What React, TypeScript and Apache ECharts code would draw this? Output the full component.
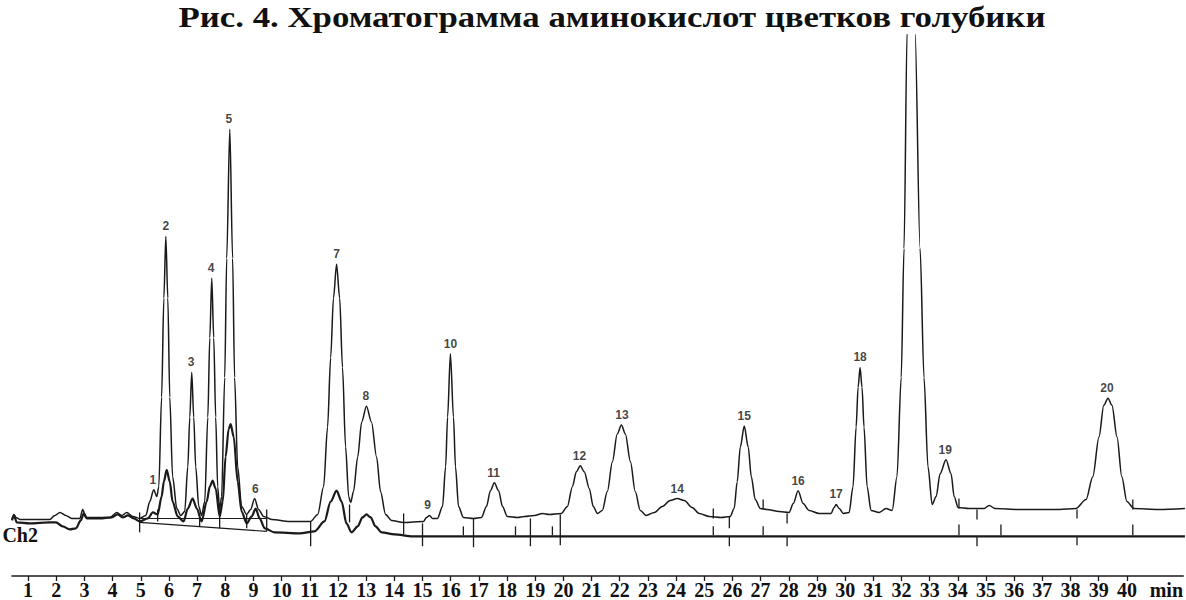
import React, { useEffect, useRef } from "react";
import * as echarts from "echarts";

const TITLE = "Рис. 4. Хроматограмма аминокислот цветков голубики";
const CHANNEL_LABEL = "Ch2";
const UNIT_LABEL = "min";

const minuteTicks = [
  1, 2, 3, 4, 5, 6, 7, 8, 9, 10, 11, 12, 13, 14, 15, 16, 17, 18, 19, 20,
  21, 22, 23, 24, 25, 26, 27, 28, 29, 30, 31, 32, 33, 34, 35, 36, 37, 38, 39, 40,
];

// main detector trace: [minutes, signal]
const traceMain: [number, number][] = [
  [0.43, 57], [0.5, 62], [0.57, 59], [0.71, 57], [1.77, 57], [1.95, 61], [2.13, 64], [2.34, 61],
  [2.55, 58], [2.84, 58], [2.94, 67], [3.05, 59], [3.9, 59], [4.15, 64], [4.33, 61], [4.5, 64],
  [4.72, 60], [4.96, 58], [5.18, 61], [5.32, 75], [5.46, 87], [5.57, 80], [5.64, 90], [5.74, 180],
  [5.82, 280], [5.89, 342], [5.96, 280], [6.03, 180], [6.13, 100], [6.28, 68], [6.42, 61], [6.56, 65],
  [6.67, 110], [6.74, 160], [6.81, 205], [6.88, 160], [6.95, 110], [7.06, 70], [7.16, 61], [7.27, 75],
  [7.38, 160], [7.45, 240], [7.52, 300], [7.59, 240], [7.66, 160], [7.73, 90], [7.8, 67], [7.87, 80],
  [7.98, 200], [8.05, 320], [8.16, 450], [8.26, 320], [8.33, 200], [8.44, 110], [8.58, 70], [8.76, 62],
  [8.9, 67], [9.04, 78], [9.18, 67], [9.36, 60], [9.65, 57], [10.28, 55], [11.03, 55], [11.28, 62],
  [11.49, 90], [11.63, 150], [11.74, 220], [11.84, 280], [11.95, 314], [12.06, 280], [12.16, 210],
  [12.27, 130], [12.38, 80], [12.45, 74], [12.55, 85], [12.7, 120], [12.84, 155], [13.01, 171],
  [13.19, 155], [13.37, 120], [13.51, 85], [13.69, 62], [13.9, 56], [14.33, 54], [15.04, 55],
  [15.14, 59], [15.25, 61], [15.35, 58], [15.53, 58], [15.71, 70], [15.82, 110], [15.89, 160],
  [15.99, 224], [16.1, 160], [16.17, 110], [16.28, 70], [16.45, 59], [16.81, 58], [17.09, 59],
  [17.27, 70], [17.41, 86], [17.55, 94], [17.7, 86], [17.84, 70], [18.01, 60], [18.37, 59],
  [18.62, 60], [18.97, 61], [19.26, 63], [19.5, 62], [19.93, 63], [20.14, 70], [20.32, 90],
  [20.46, 105], [20.6, 111], [20.74, 105], [20.92, 88], [21.06, 70], [21.21, 63], [21.38, 66],
  [21.56, 85], [21.74, 115], [21.91, 143], [22.06, 152], [22.2, 143], [22.38, 115], [22.55, 85],
  [22.73, 66], [22.94, 61], [23.23, 64], [23.51, 70], [23.79, 76], [24.04, 78], [24.29, 76],
  [24.57, 69], [24.82, 63], [25.18, 60], [25.6, 59], [25.92, 60], [26.06, 68], [26.17, 95],
  [26.28, 130], [26.42, 151], [26.56, 130], [26.67, 100], [26.81, 77], [26.99, 68], [27.23, 67],
  [27.66, 65], [28.01, 64], [28.16, 73], [28.33, 86], [28.51, 73], [28.72, 66], [29.08, 63],
  [29.5, 63], [29.61, 69], [29.68, 72], [29.79, 68], [29.93, 63], [30.14, 64], [30.28, 90],
  [30.39, 150], [30.46, 190], [30.53, 210], [30.6, 190], [30.67, 150], [30.78, 90], [30.92, 66],
  [31.21, 64], [31.45, 68], [31.67, 66], [31.84, 100], [31.99, 200], [32.09, 330], [32.2, 550],
  [32.34, 620], [32.48, 550], [32.66, 330], [32.8, 200], [32.94, 110], [33.09, 72], [33.23, 80],
  [33.37, 103], [33.58, 117], [33.76, 103], [33.87, 80], [34.01, 69], [34.4, 68], [34.93, 68],
  [35.11, 71], [35.32, 68], [36.17, 67], [37.59, 67], [38.19, 68], [38.55, 77], [38.79, 100],
  [39.01, 140], [39.18, 172], [39.33, 179], [39.47, 172], [39.65, 140], [39.82, 100], [40.0, 75],
  [40.25, 68], [41.13, 67], [42.06, 68],
];

// second channel (bold) trace
const traceCh2: [number, number][] = [
  [0.43, 56], [0.5, 61], [0.6, 54], [1.06, 53], [1.77, 54], [1.99, 54], [2.23, 50], [2.48, 47],
  [2.7, 48], [2.87, 56], [2.98, 63], [3.09, 58], [3.55, 58], [3.97, 59], [4.18, 62], [4.36, 59],
  [4.54, 61], [4.75, 58], [4.96, 55], [5.25, 58], [5.43, 64], [5.6, 62], [5.74, 80], [5.82, 95],
  [5.92, 107], [6.03, 95], [6.13, 75], [6.31, 60], [6.52, 55], [6.67, 68], [6.84, 78], [6.99, 68],
  [7.16, 55], [7.34, 75], [7.45, 90], [7.55, 96], [7.66, 88], [7.8, 60], [7.91, 75], [8.01, 120],
  [8.12, 148], [8.19, 153], [8.3, 140], [8.44, 95], [8.58, 65], [8.76, 53], [8.94, 60], [9.08, 68],
  [9.22, 58], [9.4, 48], [9.75, 44], [10.64, 43], [11.17, 45], [11.52, 55], [11.74, 75], [11.95, 86],
  [12.13, 75], [12.3, 53], [12.48, 44], [12.7, 50], [12.87, 59], [13.01, 62], [13.16, 59],
  [13.33, 50], [13.55, 44], [14.01, 42], [14.65, 40], [42.06, 40],
];

const peakNames = [
  "1", "2", "3", "4", "5", "6", "7", "8", "9", "10",
  "11", "12", "13", "14", "15", "16", "17", "18", "19", "20",
];
const peakTimes = [
  5.43, 5.89, 6.79, 7.5, 8.13, 9.07, 11.95, 12.99, 15.18, 15.99,
  17.52, 20.57, 22.08, 24.04, 26.42, 28.33, 29.68, 30.53, 33.55, 39.29,
];
const peakHeights = [
  87, 342, 205, 300, 450, 78, 314, 171, 61, 224,
  94, 111, 152, 78, 151, 86, 72, 210, 117, 179,
];

// integrator marks: [minutes, signal from, signal to]
const integrationMarks: [number, number, number][] = [
  [4.96, 64, 44], [5.6, 67, 55], [7.09, 58, 50], [7.8, 67, 48], [8.76, 62, 48], [9.47, 67, 45],
  [11.03, 55, 30], [12.41, 72, 54], [14.33, 63, 42], [15.0, 53, 30], [16.45, 50, 41],
  [16.81, 58, 29], [18.3, 50, 41], [18.83, 58, 30], [19.61, 50, 41], [19.89, 62, 31],
  [25.32, 68, 58], [25.32, 50, 41], [25.89, 60, 48], [25.89, 40, 30], [27.09, 77, 67],
  [27.09, 50, 41], [27.94, 63, 53], [27.94, 40, 30], [34.04, 78, 68], [34.04, 52, 41],
  [34.68, 67, 57], [34.68, 40, 30], [35.53, 52, 41], [38.23, 67, 58], [38.23, 40, 31],
  [40.21, 77, 67], [40.21, 52, 41],
];

// integrator baselines: [t1, v1, t2, v2]
const integrationBaselines: [number, number, number, number][] = [
  [4.96, 58, 9.47, 58],
  [4.96, 54, 9.47, 45],
];

const INK = "#1a1a1a";

export default function App() {
  const ref = useRef<HTMLDivElement>(null);

  useEffect(() => {
    document.body.style.margin = "0";
    if (!ref.current) return;
    const chart = echarts.init(ref.current, undefined, { renderer: "svg" });

    const labelData = peakNames.map((n, i) => ({ name: n, value: [peakTimes[i], peakHeights[i]] }));

    const option: any = {
      animation: false,
      backgroundColor: "#ffffff",
      grid: { left: 12, right: 2, top: 35, bottom: 20 },
      xAxis: {
        type: "value",
        min: 0.43,
        max: 42,
        axisLine: { show: true, onZero: false, lineStyle: { color: INK, width: 1.6 } },
        axisTick: { show: true, customValues: minuteTicks, length: 5, lineStyle: { color: INK, width: 1.3 } },
        axisLabel: {
          customValues: [...minuteTicks, 41.4],
          formatter: (v: number) => (v > 40 ? UNIT_LABEL : String(Math.round(v))),
          fontFamily: "Liberation Serif",
          fontWeight: "bold",
          fontSize: 20,
          color: "#111",
          margin: 4,
        },
        splitLine: { show: false },
      },
      yAxis: { type: "value", min: 0, max: 545, show: false },
      graphic: [
        {
          type: "text",
          x: 612,
          y: 17,
          scaleX: 1.2,
          style: {
            text: TITLE,
            font: 'bold 29px "Liberation Serif"',
            fill: "#111",
            align: "center",
            textAlign: "center",
            verticalAlign: "middle",
            textVerticalAlign: "middle",
          },
        },
        {
          type: "text",
          x: 38,
          y: 535,
          style: {
            text: CHANNEL_LABEL,
            font: 'bold 20px "Liberation Serif"',
            fill: "#111",
            align: "right",
            textAlign: "right",
            verticalAlign: "middle",
            textVerticalAlign: "middle",
          },
        },
      ],
      series: [
        {
          type: "line",
          data: traceCh2,
          showSymbol: false,
          smooth: 0.3,
          smoothMonotone: "x",
          lineStyle: { color: INK, width: 2.2 },
          silent: true,
          z: 2,
        },
        {
          type: "line",
          data: traceMain,
          showSymbol: false,
          smooth: 0.3,
          smoothMonotone: "x",
          lineStyle: { color: INK, width: 1.5 },
          silent: true,
          z: 3,
        },
        {
          type: "custom",
          data: integrationMarks,
          encode: { x: 0, y: [1, 2] },
          silent: true,
          renderItem: (_p: any, api: any) => {
            const a = api.coord([api.value(0), api.value(1)]);
            const b = api.coord([api.value(0), api.value(2)]);
            return {
              type: "line",
              shape: { x1: a[0], y1: a[1], x2: b[0], y2: b[1] },
              style: { stroke: INK, lineWidth: 1.3 },
            };
          },
          z: 4,
        },
        {
          type: "custom",
          data: integrationBaselines,
          encode: { x: [0, 2], y: [1, 3] },
          silent: true,
          renderItem: (_p: any, api: any) => {
            const a = api.coord([api.value(0), api.value(1)]);
            const b = api.coord([api.value(2), api.value(3)]);
            return {
              type: "line",
              shape: { x1: a[0], y1: a[1], x2: b[0], y2: b[1] },
              style: { stroke: INK, lineWidth: 1.1 },
            };
          },
          z: 4,
        },
        {
          type: "scatter",
          data: labelData,
          symbolSize: 0.1,
          itemStyle: { color: "transparent" },
          silent: true,
          label: {
            show: true,
            position: "top",
            distance: 4,
            formatter: (p: any) => p.name,
            fontFamily: "Liberation Sans",
            fontWeight: "bold",
            fontSize: 12,
            color: "#111",
          },
          z: 5,
        },
      ],
    };

    chart.setOption(option);
    return () => chart.dispose();
  }, []);

  return <div ref={ref} style={{ width: 1186, height: 600 }} />;
}
